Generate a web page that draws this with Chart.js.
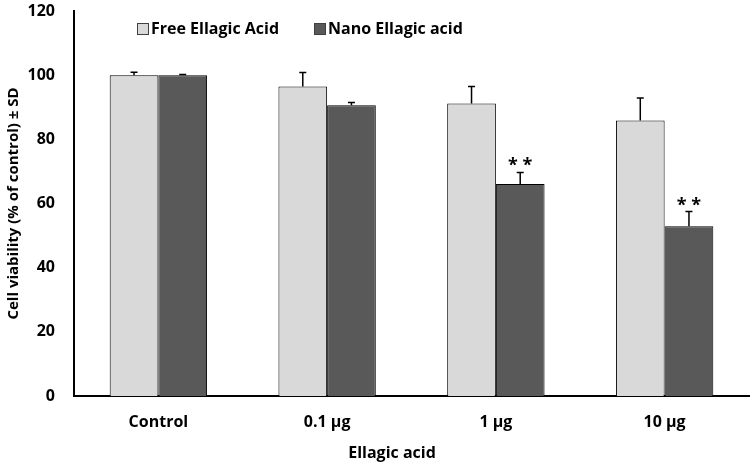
<!DOCTYPE html>
<html>
<head>
<meta charset="utf-8">
<script src="https://cdn.jsdelivr.net/npm/chart.js@4.4.1/dist/chart.umd.min.js"></script>
<style>
  html, body { margin: 0; padding: 0; background: #fff; }
  #wrap { width: 750px; height: 467px; }
</style>
</head>
<body>
<div id="wrap"><canvas id="miGrafica" width="750" height="467"></canvas></div>
<script>
// valores
const categorias = ['Control', '0.1 µg', '1 µg', '10 µg'];
const serieLibre = [100, 96.5, 91.2, 85.9];
const sdLibre = [0.9, 4.3, 5.3, 7.0];
const serieNano = [100, 90.6, 66.1, 52.9];
const sdNano = [0.2, 0.9, 3.6, 4.6];
const marcasNano = ['', '', '**', '**'];
const ticksY = [0, 20, 40, 60, 80, 100, 120];

const fuente = '"Open Sans", Lato, sans-serif';

// barras de error (solo hacia arriba), asteriscos y leyenda dentro del area
const extras = {
    id: 'extras',
    afterDatasetsDraw(chart) {
        const ctx = chart.ctx;
        const y = chart.scales.y;
        const errores = [sdLibre, sdNano];
        const marcas = [null, marcasNano];
        ctx.save();
        chart.data.datasets.forEach((ds, i) => {
            const meta = chart.getDatasetMeta(i);
            meta.data.forEach((bar, j) => {
                const top = y.getPixelForValue(ds.data[j] + errores[i][j]);
                ctx.strokeStyle = '#000';
                ctx.lineWidth = 1.5;
                ctx.beginPath();
                ctx.moveTo(bar.x, bar.y);
                ctx.lineTo(bar.x, top);
                ctx.moveTo(bar.x - 3.5, top);
                ctx.lineTo(bar.x + 3.5, top);
                ctx.stroke();
                if (marcas[i] && marcas[i][j]) {
                    ctx.fillStyle = '#000';
                    ctx.font = 'bold 18px ' + fuente;
                    ctx.textAlign = 'center';
                    ctx.textBaseline = 'alphabetic';
                    ctx.fillText(marcas[i][j].split('').join(' '), bar.x, top - 1);
                }
            });
        });

        // leyenda
        const posLeyenda = [137, 314];
        ctx.font = 'bold 16px ' + fuente;
        ctx.textAlign = 'left';
        ctx.textBaseline = 'middle';
        chart.data.datasets.forEach((ds, i) => {
            const x0 = posLeyenda[i];
            ctx.fillStyle = ds.backgroundColor;
            ctx.fillRect(x0, 23, 11, 11);
            ctx.strokeStyle = '#404040';
            ctx.lineWidth = 1;
            ctx.strokeRect(x0 + 0.5, 23.5, 11, 11);
            ctx.fillStyle = '#000';
            ctx.fillText(ds.label, x0 + 14, 29);
        });

        // titulo del eje x
        ctx.font = 'bold 16px ' + fuente;
        ctx.textAlign = 'center';
        ctx.fillText('Ellagic acid', 392, 453);
        ctx.restore();
    }
};

function crearGrafica() {
    const ctx = document.getElementById('miGrafica').getContext('2d');
    return new Chart(ctx, {
        type: 'bar',
        data: {
            labels: categorias,
            datasets: [
                {
                    label: 'Free Ellagic Acid',
                    data: serieLibre,
                    backgroundColor: '#D9D9D9',
                    borderColor: '#000',
                    borderWidth: 1,
                    categoryPercentage: 0.577,
                    barPercentage: 1
                },
                {
                    label: 'Nano Ellagic acid',
                    data: serieNano,
                    backgroundColor: '#595959',
                    borderColor: '#000',
                    borderWidth: 1,
                    categoryPercentage: 0.577,
                    barPercentage: 1
                }
            ]
        },
        options: {
            responsive: false,
            animation: false,
            layout: { padding: { top: 11, right: 1, left: 0, bottom: 0 } },
            plugins: {
                legend: { display: false },
                tooltip: { enabled: false }
            },
            scales: {
                x: {
                    grid: { display: false, drawTicks: false },
                    border: { display: true, color: '#000', width: 2 },
                    ticks: {
                        color: '#000',
                        padding: 17,
                        font: { family: fuente, size: 16, weight: 'bold' }
                    },
                    afterFit: (s) => { s.height = 71; s.paddingLeft = 0; s.paddingRight = 0; }
                },
                y: {
                    min: 0,
                    max: 120,
                    grid: { display: false, drawTicks: false },
                    border: { display: true, color: '#000', width: 2 },
                    afterBuildTicks: (s) => { s.ticks = ticksY.map(v => ({ value: v })); },
                    ticks: {
                        color: '#000',
                        padding: 19,
                        font: { family: fuente, size: 16, weight: 'bold' }
                    },
                    title: {
                        display: true,
                        text: 'Cell viability (% of control) ± SD',
                        color: '#000',
                        padding: { top: 5, bottom: 0 },
                        font: { family: fuente, size: 15, weight: 'bold' }
                    },
                    afterFit: (s) => { s.width = 74; s.paddingTop = 0; s.paddingBottom = 0; }
                }
            }
        },
        plugins: [extras]
    });
}

const miGrafica = crearGrafica();
</script>
</body>
</html>
